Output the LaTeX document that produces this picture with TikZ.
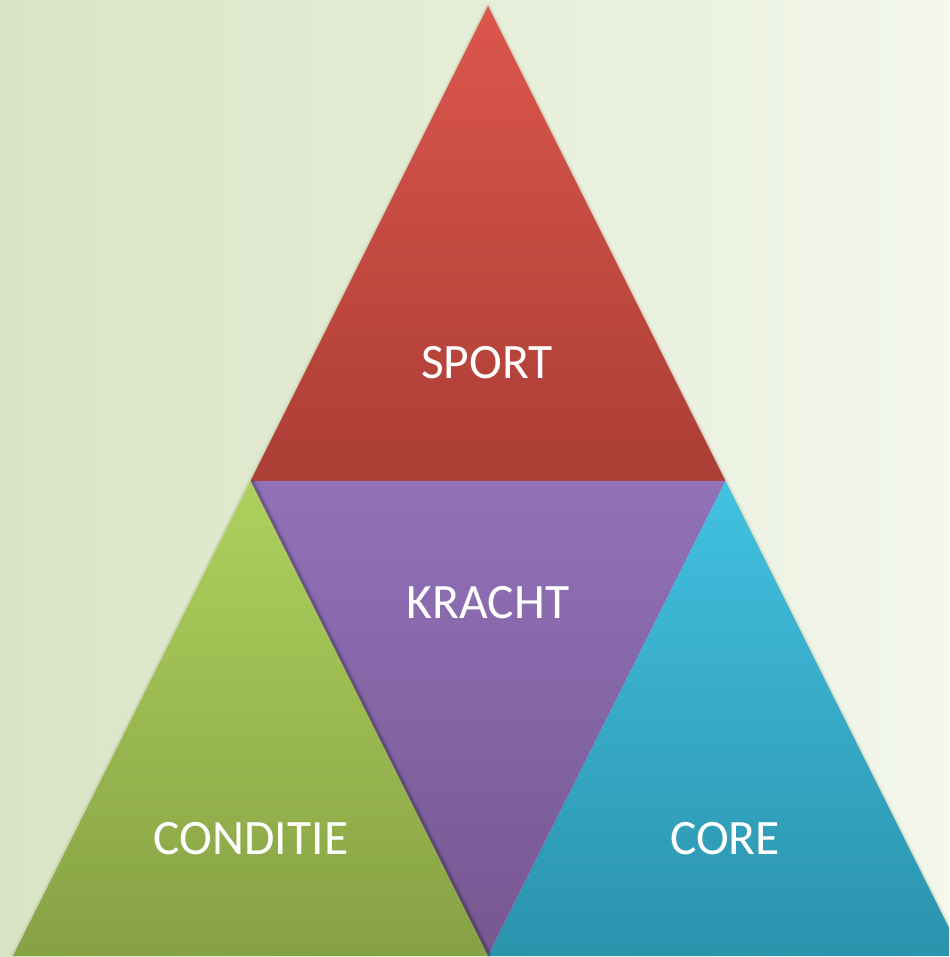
\documentclass[tikz,border=0pt]{standalone}
\usepackage{fontspec}
\setmainfont{Carlito}
\begin{document}
\begin{tikzpicture}[x=1pt,y=1pt,
  label/.style={text=white,font=\fontsize{49.5}{59}\selectfont,inner sep=0pt,anchor=center}]
\definecolor{bgL}{HTML}{D9E4C4}
\definecolor{bgR}{HTML}{F3F7EC}
\definecolor{redT}{HTML}{DC564C}
\definecolor{redB}{HTML}{AB3E36}
\definecolor{purT}{HTML}{9172B9}
\definecolor{purB}{HTML}{765791}
\definecolor{grnT}{HTML}{AED15D}
\definecolor{grnB}{HTML}{86A144}
\definecolor{bluT}{HTML}{42C1E1}
\definecolor{bluB}{HTML}{2B93AC}
\useasboundingbox (0,0) rectangle (949,957);
\clip (0,0) rectangle (949,957);
% background
\shade[left color=bgL,right color=bgR] (0,0) rectangle (949,957);
% corner points of the pyramid
\coordinate (apex) at (488,951);
\coordinate (bl) at (13,1);
\coordinate (bm) at (488,1);
\coordinate (br) at (963,1);
\coordinate (ml) at (250.5,476);
\coordinate (mr) at (725.5,476);
% soft glow around the outer triangles
\foreach \w/\o in {6/0.04,4/0.05,2/0.07}{
  \draw[line width=\w pt,line join=round,draw=black!40!olive,opacity=\o] (bl) -- (apex) -- (br);
}
% four triangles
\shade[top color=redT,bottom color=redB] (apex) -- (ml) -- (mr) -- cycle;
\shade[top color=purT,bottom color=purB] (ml) -- (mr) -- (bm) -- cycle;
\shade[top color=bluT,bottom color=bluB] (mr) -- (br) -- (bm) -- cycle;
% shadow of the green triangle on the purple one
\foreach \w/\o in {7/0.06,4.5/0.08,2.5/0.12}{
  \draw[line width=\w pt,draw=black,opacity=\o] ([xshift=1.5pt]ml) -- ([xshift=1.5pt]bm);
}
\shade[top color=grnT,bottom color=grnB] (ml) -- (bm) -- (bl) -- cycle;
% labels
\node[label] (sport) at (487,594.5) {SPORT};
\node[label] (kracht) at (488,354.5) {KRACHT};
\node[label] (conditie) at (251,118) {CONDITIE};
\node[label] (core) at (725,118) {CORE};
\end{tikzpicture}
\end{document}
